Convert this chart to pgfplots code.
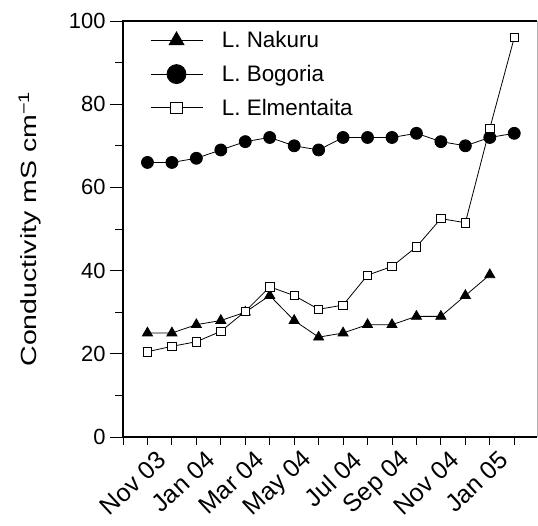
\documentclass[border=0pt]{standalone}
\usepackage{fontspec}
\setmainfont{Liberation Sans}
\usepackage{pgfplots}
\pgfplotsset{compat=1.18}
\newcommand{\bigf}{\fontsize{22}{26}\selectfont}
\newcommand{\xf}{\fontsize{25}{29}\selectfont}
\begin{document}
\begin{tikzpicture}
\useasboundingbox (-123bp,-89bp) rectangle (415bp,437bp);
\begin{axis}[
  scale only axis, width=414bp, height=416bp,
  at={(0,0)}, anchor=south west,
  xmin=0, xmax=16.93, ymin=0, ymax=100,
  /pgf/number format/assume math mode=true,
  tick label style={font=\bigf},
  label style={font=\bigf},
  axis line style={draw=none},
  tick align=outside, xtick pos=bottom, ytick pos=left,
  major tick length=8bp, minor tick length=8bp,
  every tick/.style={black, line width=0.9pt},
  xtick={1,3,...,15},
  xticklabels={Nov 03,Jan 04,Mar 04,May 04,Jul 04,Sep 04,Nov 04,Jan 05},
  minor xtick={0,2,...,16},
  xticklabel style={font=\xf, rotate=43, anchor=east, inner sep=0pt, yshift=-18bp, xshift=3bp},
  ytick={0,20,...,100},
  minor ytick={10,30,...,90},
  extra y ticks={0,20,...,100}, extra y tick labels={},
  extra y tick style={major tick length=13bp},
  yticklabel style={xshift=-6bp},
  ylabel={Conductivity mS cm\textsuperscript{−1}},
  ylabel style={xscale=1.3, yshift=0bp},
  clip=false,
  legend style={draw=none, fill=none, at={(rel axis cs:0.065,0.98)}, anchor=north west,
    font=\fontsize{22.5}{26}\selectfont, row sep=12bp, column sep=17bp, inner sep=0pt},
  legend cell align=left,
  legend image code/.code={\draw[mark repeat=2,mark phase=2] plot coordinates {(0bp,0bp) (26bp,0bp) (52bp,0bp)};},
]
\addlegendimage{black, line width=0.8pt, mark=triangle*, mark size=8.5bp, mark options={solid}}
\addlegendentry{L. Nakuru}
\addlegendimage{black, line width=0.8pt, mark=*, mark size=9.5bp}
\addlegendentry{L. Bogoria}
\addlegendimage{black, line width=0.8pt, mark=square*, mark size=5.8bp, mark options={fill=white, line width=0.8pt}}
\addlegendentry{L. Elmentaita}
\addplot[black, line width=0.8pt, mark=triangle*, mark size=5.8bp, forget plot] coordinates {
(1,25) (2,25) (3,27) (4,28) (5,30) (6,34) (7,28) (8,24) (9,25) (10,27) (11,27) (12,29) (13,29) (14,34) (15,39)};
\addplot[black, line width=0.8pt, mark=*, mark size=6bp, forget plot] coordinates {
(1,66) (2,66) (3,67) (4,69) (5,71) (6,72) (7,70) (8,69) (9,72) (10,72) (11,72) (12,73) (13,71) (14,70) (15,72) (16,73)};
\addplot[black, line width=0.8pt, mark=square*, mark size=4.2bp, mark options={fill=white, line width=0.8pt}, forget plot] coordinates {
(1,20.5) (2,21.8) (3,22.9) (4,25.4) (5,30.2) (6,36.1) (7,34.0) (8,30.7) (9,31.7) (10,38.9) (11,41.0) (12,45.7) (13,52.5) (14,51.5) (15,74.2) (16,96.0)};
\draw[black, line width=1.4pt] (rel axis cs:1,1) -- (rel axis cs:0,1) -- (rel axis cs:0,0) -- (rel axis cs:1,0);
\draw[gray!60, line width=0.6pt] (rel axis cs:1,0) -- (rel axis cs:1,1);
\end{axis}
\end{tikzpicture}
\end{document}
